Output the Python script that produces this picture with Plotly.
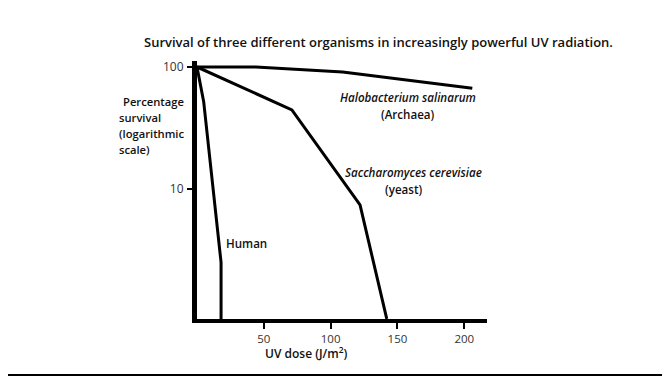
import plotly.graph_objects as go

halo_x = [0, 44, 109, 206]
halo_y = [100, 100, 91, 67]
yeast_x = [0, 71, 122, 142]
yeast_y = [100, 44.5, 7.4, 0.86]
human_x = [0, 5, 18, 18]
human_y = [100, 52, 2.5, 0.86]

x_ticks = [50, 100, 150, 200]
y_ticks = [10, 100]

FONT = "Open Sans"
fig = go.Figure()
for xs, ys in [(halo_x, halo_y), (yeast_x, yeast_y), (human_x, human_y)]:
    fig.add_trace(go.Scatter(x=xs, y=ys, mode="lines",
                             line=dict(color="black", width=3),
                             showlegend=False, hoverinfo="skip"))

# plot area in window pixels: x 197..487, y 61..319 (page body has 8px margin)
L, R, T, B = 197, 487, 61, 319
fig.update_layout(
    width=662, height=368,
    margin=dict(l=L - 8, r=670 - R, t=T - 8, b=368 - (B - 8)),
    paper_bgcolor="white", plot_bgcolor="white",
    font=dict(family=FONT, color="#222"),
    xaxis=dict(range=[0, 217], tickvals=x_ticks, ticks="outside", ticklen=6,
               tickwidth=2, tickcolor="black", showline=True, linewidth=4,
               linecolor="black", showgrid=False, zeroline=False,
               tickfont=dict(size=11.5, color="#333")),
    yaxis=dict(type="log", range=[-0.066, 2.049], tickvals=y_ticks,
               ticktext=["10", "100"], ticks="outside", ticklen=5, tickwidth=2,
               tickcolor="black", showline=True, linewidth=5, linecolor="black",
               showgrid=False, zeroline=False, ticklabelstandoff=1,
               tickfont=dict(size=12, color="#333")),
)

def px(xp):
    return (xp - L) / (R - L)
def py(yp):
    return (B - yp) / (B - T)

def ann(text, x, y, size=11, italic=False, align="center", xanchor="center"):
    t = f"<i>{text}</i>" if italic else text
    fig.add_annotation(text=t, x=px(x), y=py(y), xref="paper", yref="paper",
                       xanchor=xanchor, yanchor="middle", showarrow=False, align=align,
                       font=dict(family=FONT, size=size, color="#111", weight=600))

ann("Survival of three different organisms in increasingly powerful UV radiation.",
    378, 42, size=13)
ann("Percentage", 121, 101, size=11.2, xanchor="left")
ann("survival", 117, 117, size=11.2, xanchor="left")
ann("(logarithmic", 117, 133, size=11.2, xanchor="left")
ann("scale)", 117, 149, size=11.2, xanchor="left")
ann("Halobacterium salinarum", 338, 97, size=11.6, italic=True, xanchor="left")
ann("(Archaea)", 408, 114, size=11.6)
ann("Saccharomyces cerevisiae", 343, 172, size=11.6, italic=True, xanchor="left")
ann("(yeast)", 404, 189, size=11.6)
ann("Human", 224, 244, size=11.6, xanchor="left")
ann("UV dose (J/m<sup>2</sup>)", 306, 353, size=12)

fig.add_shape(type="line", xref="paper", yref="paper", x0=px(8), x1=px(670),
              y0=py(375), y1=py(375), line=dict(color="black", width=2))

fig.write_html("out.html")
